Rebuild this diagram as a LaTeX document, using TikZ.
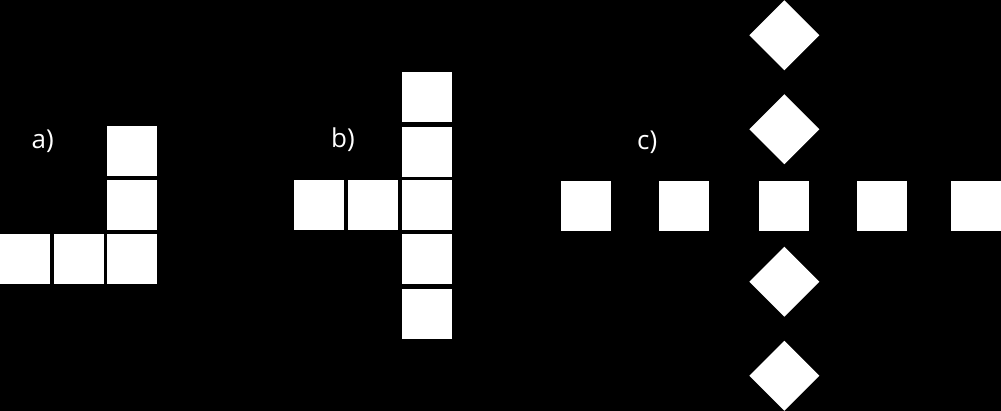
\documentclass[tikz,border=0pt]{standalone}
\usepackage{fontspec}
\setmainfont{Open Sans}
\begin{document}
\begin{tikzpicture}[x=1pt,y=-1pt,
  cell/.style={rectangle,fill=white,draw=none,inner sep=0pt,minimum size=50pt},
  rhomb/.style={rectangle,fill=white,draw=none,inner sep=0pt,minimum size=49.5pt,rotate=45},
  lbl/.style={text=white,inner sep=0pt,anchor=base west,font=\fontsize{26}{30}\selectfont}]
\fill[black] (0,0) rectangle (1001,411);
\useasboundingbox (0,0) rectangle (1001,411);
% a)
\node[lbl] (la) at (31.5,148.5) {a)};
\node[cell] (a1) at (132.3,151) {};
\node[cell] (a2) at (132.3,205.4) {};
\node[cell] (a3) at (132.3,259.2) {};
\node[cell] (a4) at (78.7,259.2) {};
\node[cell] (a5) at (25,259.2) {};
% b)
\node[lbl] (lb) at (331,147.5) {b)};
\node[cell] (b1) at (427,97.2) {};
\node[cell] (b2) at (427,151.7) {};
\node[cell] (b3) at (427,205.4) {};
\node[cell] (b4) at (427,259.5) {};
\node[cell] (b5) at (427,313.9) {};
\node[cell] (b6) at (373.2,205.4) {};
\node[cell] (b7) at (319.2,205.4) {};
% c)
\node[lbl] (lc) at (637,150) {c)};
\node[cell] (c1) at (585.5,205.8) {};
\node[cell] (c2) at (683.5,205.8) {};
\node[cell] (c3) at (784,205.8) {};
\node[cell] (c4) at (881.7,205.8) {};
\node[cell] (c5) at (976,205.8) {};
\node[rhomb] (d1) at (784.3,35.3) {};
\node[rhomb] (d2) at (784.3,129.2) {};
\node[rhomb] (d3) at (784.3,281.7) {};
\node[rhomb] (d4) at (784.3,375.8) {};
\end{tikzpicture}
\end{document}
